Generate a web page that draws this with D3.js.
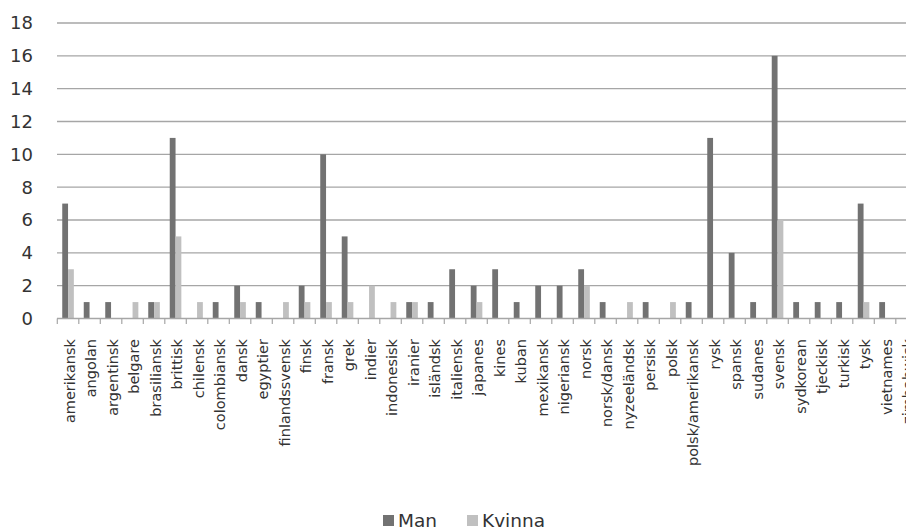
<!DOCTYPE html>
<html><head><meta charset="utf-8">
<script src="https://cdn.jsdelivr.net/npm/d3@7"></script>
<style>body{margin:0;background:#fff;overflow:hidden}svg{display:block}</style>
</head><body>
<script>
const categories = ["amerikansk","angolan","argentinsk","belgare","brasiliansk","brittisk","chilensk","colombiansk","dansk","egyptier","finlandssvensk","finsk","fransk","grek","indier","indonesisk","iranier","isländsk","italiensk","japanes","kines","kuban","mexikansk","nigeriansk","norsk","norsk/dansk","nyzeeländsk","persisk","polsk","polsk/amerikansk","rysk","spansk","sudanes","svensk","sydkorean","tjeckisk","turkisk","tysk","vietnames","zimbabwisk"];
const man    = [7,1,1,0,1,11,0,1,2,1,0,2,10,5,0,0,1,1,3,2,3,1,2,2,3,1,0,1,0,1,11,4,1,16,1,1,1,7,1,0];
const kvinna = [3,0,0,1,1,5,1,0,1,0,1,1,1,1,2,1,1,0,0,1,0,0,0,0,2,0,1,0,1,0,0,0,0,6,0,0,0,1,0,1];
const seriesNames = ["Man","Kvinna"];
const seriesColors = ["#727272","#c0c0c0"];
const yTicks = [0,2,4,6,8,10,12,14,16,18];

const W = 906, H = 532;
const svg = d3.select("body").append("svg").attr("width", W).attr("height", H);
const font = "'DejaVu Sans', sans-serif";

const x = d3.scaleBand().domain(categories).range([57.3, 57.3 + 21.5*categories.length]).padding(0);
const y = d3.scaleLinear().domain([0,18]).range([318.5, 23]);
const barW = 5.8;

// gridlines
svg.append("g").selectAll("line").data(yTicks.filter(d=>d>0)).join("line")
  .attr("x1", 57).attr("x2", W).attr("y1", d=>y(d)).attr("y2", d=>y(d))
  .attr("stroke", "#a6a6a6").attr("stroke-width", 1.4);

// y labels
svg.append("g").selectAll("text").data(yTicks).join("text")
  .attr("x", 33).attr("y", d=>y(d)).attr("dy","0.36em").attr("text-anchor","end")
  .attr("font-family", font).attr("font-size", 18).attr("fill", "#333").text(d=>d);

// bars
const data = categories.map((c,i)=>({c, v:[man[i], kvinna[i]]}));
const g = svg.append("g");
data.forEach(d=>{
  const cx = x(d.c) + x.bandwidth()/2;
  d.v.forEach((v,j)=>{
    if (v<=0) return;
    g.append("rect").attr("x", cx - barW + j*barW).attr("width", barW)
      .attr("y", y(v)).attr("height", y(0)-y(v)).attr("fill", seriesColors[j]);
  });
});

// x axis
svg.append("line").attr("x1",57).attr("x2",W).attr("y1",y(0)).attr("y2",y(0))
  .attr("stroke","#a6a6a6").attr("stroke-width",1.4);
svg.append("g").selectAll("line").data(d3.range(categories.length+1)).join("line")
  .attr("x1", i=>57.3+i*21.5).attr("x2", i=>57.3+i*21.5)
  .attr("y1", y(0)).attr("y2", y(0)+5.5).attr("stroke","#a6a6a6").attr("stroke-width",1.2);

// x labels
svg.append("g").selectAll("text").data(categories).join("text")
  .attr("transform", d=>`translate(${x(d)+x.bandwidth()/2+1.5},${339}) rotate(-90)`)
  .attr("dy","0.36em").attr("text-anchor","end")
  .attr("font-family", font).attr("font-size", 14.5).attr("fill", "#333").text(d=>d);

// legend
const leg = svg.append("g");
const legX = [383, 467];
seriesNames.forEach((n,i)=>{
  leg.append("rect").attr("x", legX[i]).attr("y", 515).attr("width", 11).attr("height", 11).attr("fill", seriesColors[i]);
  leg.append("text").attr("x", legX[i]+15).attr("y", 526.5).attr("font-family", font)
    .attr("font-size", 18.5).attr("fill","#333").text(n);
});
</script>
</body></html>
